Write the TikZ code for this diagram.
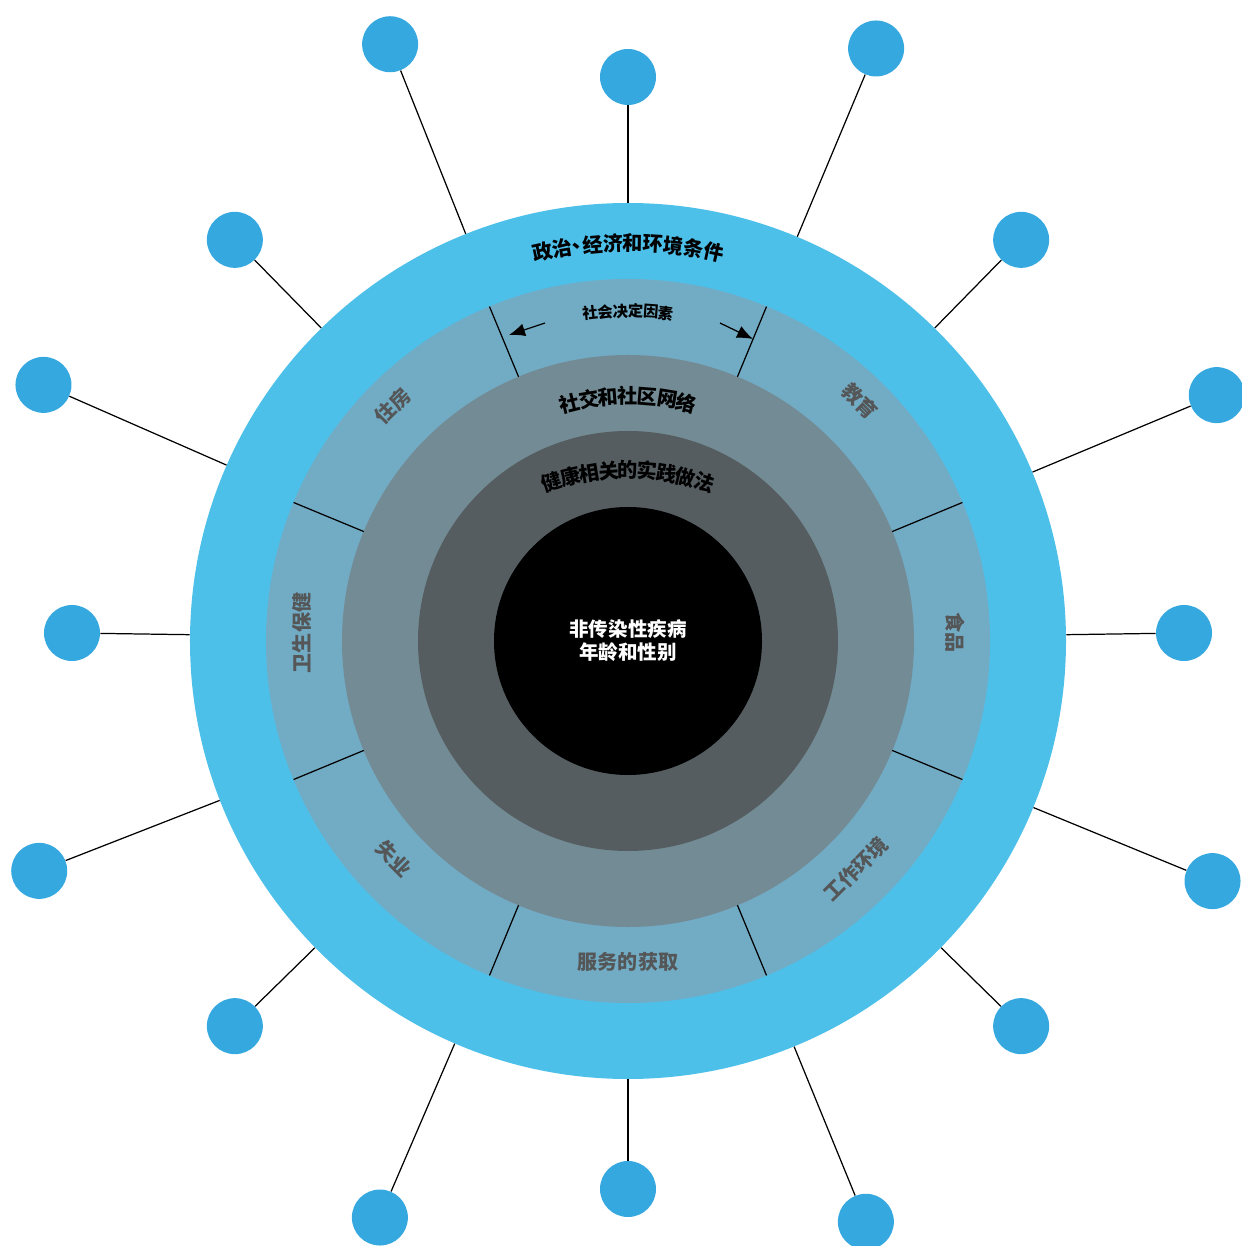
\documentclass[tikz,border=0pt]{standalone}
\usepackage{fontspec}
\newfontfamily\cjk{Noto Sans CJK SC}
\usetikzlibrary{arrows.meta, calc}
\definecolor{outerblue}{HTML}{4DC0EA}
\definecolor{segblue}{HTML}{72ABC4}
\definecolor{netgray}{HTML}{738B95}
\definecolor{practgray}{HTML}{555D61}
\definecolor{dotblue}{HTML}{36A8E0}
\definecolor{labelgray}{HTML}{545657}
\tikzset{
	dot/.style={circle, fill=dotblue, minimum size=11.2mm, inner sep=0pt},
	ring/.style={circle, inner sep=0pt},
	ringtext/.style={font=\cjk\bfseries\fontsize{11.5}{13}\selectfont, inner sep=0pt},
	smalltext/.style={font=\cjk\bfseries\fontsize{8.7}{10}\selectfont, inner sep=0pt},
	coretext/.style={font=\cjk\bfseries\fontsize{11.1}{13}\selectfont, inner sep=0pt, text=white, align=center},
	seglabel/.style={font=\cjk\bfseries\fontsize{11.4}{13}\selectfont, text=labelgray, inner sep=0pt},
	link/.style={line width=0.7pt},
}
\begin{document}
\begin{tikzpicture}[x=0.2mm, y=0.2mm]
		\useasboundingbox (-628,-613) rectangle (613,633);
		\coordinate (hub) at (0,0);
		\coordinate (c) at (0,-8);
		
		% rings
		\node [ring, fill=outerblue, minimum size=175.2mm] (outer) at (c) {};
		\node [ring, fill=segblue, minimum size=144.8mm] (seg) at (c) {};
		\node [ring, fill=netgray, minimum size=114.4mm] (net) at (c) {};
		\node [ring, fill=practgray, minimum size=84mm] (pract) at (c) {};
		\node [ring, fill=black, minimum size=53.6mm] (core) at (c) {};
		
		% outer dots
		\foreach \k in {0,...,7} {
			\node [dot] (a\k) at (\k*45:556) {};
			\node [dot] (b\k) at (22+\k*45:635) {};
			\draw [link] (a\k) -- (outer);
			\draw [link] (b\k) -- (outer);
		}
		
		\begin{scope} [shift={(c)}]
		% segment dividers
		\foreach \k in {0,...,7}
			\draw [link] (22.5+\k*45:286) -- (22.5+\k*45:362);
		
		% curved ring texts
		\foreach \ch/\p in {政/0.5, 治/1.5, 、/2.5, 经/3, 济/4, 和/5, 环/6, 境/7, 条/8, 件/9}
			\node [ringtext, rotate={(4.75-\p)*2.92}] at ({90+(4.75-\p)*2.92}:398) {\ch};
		\foreach \ch [count=\i] in {社,交,和,社,区,网,络}
			\node [ringtext, rotate={(4-\i)*4.6}] at ({90+(4-\i)*4.6}:245) {\ch};
		\foreach \ch [count=\i] in {健,康,相,关,的,实,践,做,法}
			\node [ringtext, rotate={(5-\i)*4.63}] at ($(0,-69)+({90+(5-\i)*4.63}:240)$) {\ch};
		\foreach \ch [count=\i] in {社,会,决,定,因,素}
			\node [smalltext, rotate={(3.5-\i)*2.65}] at ({90+(3.5-\i)*2.65}:330) {\ch};
		
		\node [coretext] (ncd) at (0,0) {非传染性疾病\\年龄和性别};
		\end{scope}
		
		% arrows of the top segment
		\coordinate (lt) at (-83,310);
		\coordinate (lh) at (-119,298);
		\coordinate (rt) at (92,310);
		\coordinate (rh) at (125,294);
		\draw [link, -{Latex[length=3.2mm, width=2.6mm]}] (lt) -- (lh);
		\draw [link, -{Latex[length=3.2mm, width=2.6mm]}] (rt) -- (rh);
		
		% segment labels
		\node [seglabel, rotate=45] (housing) at (136:327) {住房};
		\node [seglabel, rotate=-45] (education) at (45:328) {教育};
		\node [seglabel, rotate=-90] (food) at (0:327) {食品};
		\node [seglabel, rotate=45] (work) at (-46:328) {工作环境};
		\node [seglabel] (services) at (-90:329) {服务的获取};
		\node [seglabel, rotate=-45] (jobless) at (224:325) {失业};
		\node [seglabel, rotate=90] (care) at (180:326) {卫生保健};
		
		\end{tikzpicture}
\end{document}
